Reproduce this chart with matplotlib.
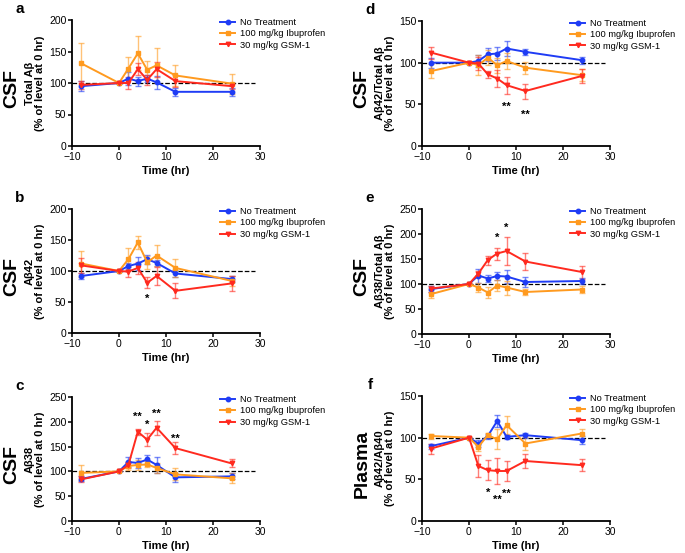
import numpy as np
import matplotlib
matplotlib.use("Agg")
import matplotlib.pyplot as plt

plt.rcParams["font.family"] = ["Liberation Sans", "DejaVu Sans"]

time = [-8, 0, 2, 4, 6, 8, 12, 24]
labels = ["No Treatment", "100 mg/kg Ibuprofen", "30 mg/kg GSM-1"]

# panel a: CSF total Abeta
a_ctrl = [95, 100, 107, 103, 107, 101, 86, 86]
a_ctrl_err = [8, 0, 10, 7, 6, 10, 6, 6]
a_ibu = [131, 100, 123, 147, 121, 128, 112, 99]
a_ibu_err = [33, 0, 18, 27, 14, 28, 16, 16]
a_gsm = [97, 100, 100, 122, 105, 122, 103, 95]
a_gsm_err = [6, 0, 10, 10, 8, 12, 10, 5]

# panel b: CSF Abeta42
b_ctrl = [92, 100, 108, 112, 119, 113, 96, 87]
b_ctrl_err = [5, 0, 5, 10, 7, 5, 5, 5]
b_ibu = [112, 100, 119, 146, 114, 125, 105, 84]
b_ibu_err = [21, 0, 18, 10, 10, 17, 14, 8]
b_gsm = [109, 100, 99, 105, 81, 92, 68, 80]
b_gsm_err = [12, 0, 8, 10, 9, 15, 12, 12]

# panel c: CSF Abeta38
c_ctrl = [85, 100, 119, 117, 124, 113, 88, 90]
c_ctrl_err = [5, 0, 10, 11, 10, 16, 9, 6]
c_ibu = [97, 100, 111, 113, 114, 107, 94, 86]
c_ibu_err = [15, 0, 8, 10, 6, 10, 12, 10]
c_gsm = [84, 100, 113, 180, 164, 188, 147, 116]
c_gsm_err = [6, 0, 6, 6, 13, 14, 12, 8]

# panel d: CSF Abeta42 / total Abeta
d_ctrl = [100, 100, 102, 110, 111, 117, 113, 103]
d_ctrl_err = [6, 0, 7, 8, 8, 9, 4, 4]
d_ibu = [90, 100, 97, 106, 97, 102, 94, 85]
d_ibu_err = [8, 0, 12, 9, 9, 10, 7, 7]
d_gsm = [112, 100, 99, 86, 81, 73, 66, 84]
d_gsm_err = [7, 0, 8, 4, 10, 10, 9, 8]

# panel e: CSF Abeta38 / total Abeta
e_ctrl = [90, 100, 117, 111, 116, 115, 104, 106]
e_ctrl_err = [6, 0, 14, 7, 8, 13, 10, 6]
e_ibu = [80, 100, 93, 83, 97, 93, 84, 89]
e_ibu_err = [8, 0, 9, 11, 11, 14, 6, 7]
e_gsm = [91, 100, 121, 148, 161, 166, 145, 124]
e_gsm_err = [6, 0, 6, 9, 12, 27, 17, 13]

# panel f: plasma Abeta42 / Abeta40
f_ctrl = [90, 100, 93, 102, 120, 101, 103, 97]
f_ctrl_err = [3, 0, 4, 3, 7, 2, 3, 5]
f_ibu = [102, 100, 89, 103, 98, 115, 93, 105]
f_ibu_err = [3, 0, 5, 3, 12, 11, 8, 6]
f_gsm = [87, 100, 66, 61, 60, 60, 72, 67]
f_gsm_err = [6, 0, 13, 12, 16, 12, 8, 7]

# significance marks: (x, y, text)
b_stars = [(6, 55, "*")]
c_stars = [(4, 210, "**"), (6, 194, "*"), (8, 216, "**"), (12, 165, "**")]
d_stars = [(8, 47, "**"), (12, 37, "**")]
e_stars = [(6, 193, "*"), (8, 213, "*")]
f_stars = [(4, 34, "*"), (6, 25, "**"), (8, 32, "**")]

colors = ["#1f3cf5", "#ff9a1f", "#ff2a1f"]
markers = ["o", "s", "v"]

panels = [
    ("a", "CSF", "Total A\u03b2", 200, [a_ctrl, a_ibu, a_gsm], [a_ctrl_err, a_ibu_err, a_gsm_err], []),
    ("b", "CSF", "A\u03b242", 200, [b_ctrl, b_ibu, b_gsm], [b_ctrl_err, b_ibu_err, b_gsm_err], b_stars),
    ("c", "CSF", "A\u03b238", 250, [c_ctrl, c_ibu, c_gsm], [c_ctrl_err, c_ibu_err, c_gsm_err], c_stars),
    ("d", "CSF", "A\u03b242/Total A\u03b2", 150, [d_ctrl, d_ibu, d_gsm], [d_ctrl_err, d_ibu_err, d_gsm_err], d_stars),
    ("e", "CSF", "A\u03b238/Total A\u03b2", 250, [e_ctrl, e_ibu, e_gsm], [e_ctrl_err, e_ibu_err, e_gsm_err], e_stars),
    ("f", "Plasma", "A\u03b242/A\u03b240", 150, [f_ctrl, f_ibu, f_gsm], [f_ctrl_err, f_ibu_err, f_gsm_err], f_stars),
]

W, H = 685, 553
fig = plt.figure(figsize=(W / 100, H / 100), dpi=100)

# axes boxes in pixels: (left, top, right, bottom)
boxes = [
    (72, 20, 260, 146), (72, 209, 260, 333), (72, 397, 260, 521),
    (422, 21, 610, 146), (422, 209, 610, 334), (422, 396, 610, 521),
]

for (letter, fluid, ylab, ymax, series, errs, stars), (l, t, r, b) in zip(panels, boxes):
    ax = fig.add_axes([l / W, 1 - b / H, (r - l) / W, (b - t) / H])
    ax.hlines(100, -10, 29, color="black", ls="--", lw=0.9, zorder=1)
    for k in range(3):
        ax.errorbar(time, series[k], yerr=errs[k], fmt="none", ecolor=colors[k],
                    alpha=0.6, elinewidth=1.0, capsize=2.2, capthick=1.0, zorder=2)
        ax.plot(time, series[k], color=colors[k], marker=markers[k], ms=3.2,
                lw=1.4, label=labels[k], zorder=3)
    for x, y, s in stars:
        ax.text(x, y, s, ha="center", va="center", fontsize=8, fontweight="bold")
    ax.set_xlim(-10, 30)
    ax.set_ylim(0, ymax)
    ax.set_xticks([-10, 0, 10, 20, 30])
    ax.set_yticks(np.arange(0, ymax + 1, 50))
    for s in ["top", "right"]:
        ax.spines[s].set_visible(False)
    for s in ["left", "bottom"]:
        ax.spines[s].set_linewidth(1.3)
    ax.tick_params(direction="out", length=3, width=1.1, labelsize=7.5, pad=1)
    ax.set_xlabel("Time (hr)", fontsize=8, fontweight="bold", labelpad=3)
    ax.set_ylabel(ylab + "\n(% of level at 0 hr)", fontsize=8, fontweight="bold",
                  labelpad=3, linespacing=1.0)
    ax.legend(loc="upper left", bbox_to_anchor=(0.77, 1.045), frameon=False,
              fontsize=6.7, handlelength=1.6, handletextpad=0.5, labelspacing=0.25,
              borderaxespad=0)
    fig.text((l - 60) / W, 1 - ((t + b) / 2 + 5) / H, fluid, rotation=90,
             fontsize=14, fontweight="bold", ha="center", va="center")
    fig.text((l - 52) / W, 1 - (t - 11) / H, letter, fontsize=11,
             fontweight="bold", ha="center", va="center")

fig.savefig("out.png", dpi=100)
